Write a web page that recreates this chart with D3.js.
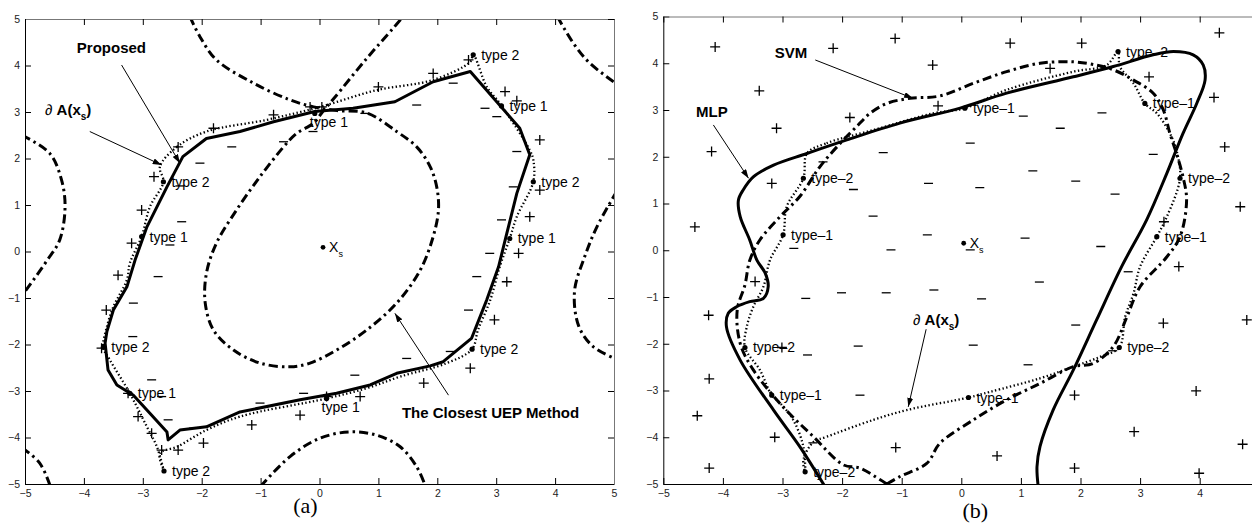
<!DOCTYPE html>
<html>
<head>
<meta charset="UTF-8">
<script src="https://d3js.org/d3.v7.min.js"></script>
<style>
body { margin:0; background:#fff; }
svg { display:block; font-family:"Liberation Sans", Arial, sans-serif; }
.tick text { font-size:10.5px; fill:#222; font-family:"Liberation Sans", Arial, sans-serif; }
.lbl { font-size:14px; fill:#000; }
.note { font-size:15px; font-weight:bold; fill:#000; }
.cap { font-family:"Liberation Serif", "Times New Roman", serif; font-size:22px; fill:#000; }
</style>
</head>
<body>
<svg id="chart" width="1252" height="530"></svg>
<script>
// ---------- panel (a) ----------
var aProposed = [[-2.32,2.04],[-1.92,2.43],[-1.35,2.58],[-0.78,2.79],[-0.08,3.01],[0.57,3.08],[1.28,3.22],[1.93,3.65],[2.56,3.87],[3.40,2.65],[3.57,2.08],[3.35,1.25],[3.18,0.39],[3.04,-0.33],[2.84,-1.04],[2.58,-1.87],[2.10,-2.37],[1.88,-2.46],[1.31,-2.62],[0.86,-2.87],[0.29,-3.05],[-0.33,-3.19],[-1.35,-3.45],[-1.92,-3.77],[-2.37,-3.84],[-2.57,-4.05],[-2.59,-3.88],[-2.88,-3.48],[-3.16,-3.09],[-3.44,-2.87],[-3.59,-2.55],[-3.64,-1.97],[-3.61,-1.72],[-3.50,-1.26],[-3.27,-0.76],[-3.13,-0.18],[-2.93,0.53],[-2.59,1.39]];

var aBoundary = [[-2.71,1.82],[-2.42,2.25],[-1.92,2.58],[-0.90,2.83],[0.01,3.11],[0.97,3.47],[1.93,3.69],[2.56,4.08],[2.61,4.23],[2.84,3.54],[3.06,3.19],[3.57,2.18],[3.63,1.97],[3.63,1.50],[3.35,0.75],[3.23,0.28],[3.06,-0.33],[2.90,-1.04],[2.69,-1.69],[2.59,-2.10],[2.16,-2.40],[1.37,-2.69],[0.80,-2.94],[0.12,-3.16],[-1.35,-3.55],[-1.92,-3.84],[-2.42,-4.20],[-2.71,-4.34],[-2.64,-4.72],[-2.76,-4.20],[-2.93,-3.77],[-3.22,-3.05],[-3.56,-2.33],[-3.67,-2.06],[-3.61,-1.62],[-3.50,-1.19],[-3.27,-0.61],[-3.22,-0.25],[-3.02,0.32],[-2.88,0.96],[-2.65,1.50]];

var aUepMain = [[-2.2,5.05],[-2.03,4.62],[-1.75,4.12],[-1.12,3.62],[-0.50,3.26],[-0.10,3.11],[0.3,3.03],[0.80,2.98],[1.31,2.58],[1.65,2.25],[1.88,1.82],[1.99,1.39],[2.02,0.9],[1.93,0.32],[1.71,-0.40],[1.31,-1.11],[0.80,-1.69],[0.29,-2.12],[-0.16,-2.40],[-0.50,-2.48],[-1.01,-2.40],[-1.46,-2.12],[-1.80,-1.69],[-1.94,-1.11],[-1.92,-0.47],[-1.75,0.18],[-1.41,0.89],[-1.01,1.61],[-0.61,2.25],[-0.39,2.54],[-0.10,2.76],[0.05,3.0],[0.25,3.3],[0.80,4.15],[1.25,4.8],[1.42,5.05]];
var aUepTR = [[4.04,5.05],[4.31,4.48],[4.59,4.05],[5.05,3.6]];
var aUepR = [[5.05,1.3],[4.71,0.53],[4.50,-0.12],[4.33,-0.85],[4.40,-1.6],[4.65,-2.05],[5.05,-2.32]];
var aUepB = [[-1.0,-5.05],[-0.5,-4.41],[0,-4.02],[0.5,-3.88],[0.97,-3.95],[1.37,-4.2],[1.65,-4.63],[1.8,-5.05]];
var aUepL = [[-5.05,2.5],[-4.58,2.11],[-4.38,1.54],[-4.32,0.96],[-4.41,0.25],[-4.63,-0.2],[-5.05,-0.95]];
var aUepBL = [[-5.05,-4.22],[-4.75,-4.55],[-4.57,-5.05]];

var aPlus = [[-2.40,2.25],[-1.80,2.65],[-0.78,2.94],[-0.16,3.11],[0.04,3.11],[1.00,3.54],[1.93,3.83],[2.53,4.12],[3.15,3.44],[3.35,3.24],[3.74,2.40],[3.74,1.32],[3.57,0.75],[3.38,-0.04],[3.18,-0.65],[2.97,-1.47],[2.56,-2.51],[1.77,-2.83],[0.69,-3.12],[0.12,-3.12],[-0.33,-3.52],[-1.15,-3.73],[-1.97,-4.12],[-2.40,-4.27],[-2.68,-4.27],[-2.85,-3.91],[-3.08,-3.55],[-3.25,-3.05],[-3.70,-2.08],[-3.62,-1.26],[-3.42,-0.51],[-3.19,0.18],[-3.02,0.89],[-2.81,1.61]];
var aMinus = [[-1.49,2.25],[-2.03,1.90],[-0.61,2.36],[-0.11,2.58],[-2.37,1.41],[-2.34,0.64],[-2.54,0.14],[0.77,2.97],[1.65,3.15],[2.27,3.62],[2.81,3.08],[3.01,2.90],[3.35,2.15],[3.29,1.39],[3.09,0.68],[2.89,-0.04],[2.67,-0.54],[2.53,-1.26],[2.22,-2.15],[1.48,-2.30],[0.60,-2.66],[-0.27,-3.05],[-1.01,-3.26],[-2.14,-3.80],[-2.57,-3.62],[-2.68,-3.12],[-2.85,-2.76],[-3.17,-1.83],[-3.16,-1.11],[-2.74,-0.54]];

var aTypes = [[-2.65,1.50,"type 2","r"],[-3.02,0.32,"type 1","r"],[-0.08,2.97,"type 1","b"],[2.61,4.23,"type 2","r"],[3.09,3.13,"type 1","r"],[3.63,1.50,"type 2","r"],[3.23,0.28,"type 1","r"],[2.59,-2.10,"type 2","r"],[0.12,-3.16,"type 1","b"],[-2.64,-4.72,"type 2","r"],[-3.22,-3.05,"type 1","r"],[-3.67,-2.06,"type 2","r"]];
var aXs = [0.06,0.09];
var aNotes = [[-4.12,4.27,"Proposed"],[-4.66,2.94,"dA"],[1.40,-3.58,"The Closest UEP Method"]];
var aArrows = [[-3.36,4.01,-2.37,1.90],[-3.90,2.58,-2.68,1.86],[2.19,-3.09,1.28,-1.33]];

// ---------- panel (b) ----------
var bMLP = [[-2.29,-5.05],[-2.71,-4.20],[-3.15,-3.42],[-3.71,-2.35],[-3.94,-1.64],[-3.91,-1.35],[-3.77,-1.21],[-3.55,-1.10],[-3.32,-1.03],[-3.24,-0.78],[-3.29,-0.49],[-3.43,-0.21],[-3.55,0.22],[-3.71,0.72],[-3.74,1.07],[-3.66,1.29],[-3.49,1.57],[-3.15,1.82],[-2.59,2.07],[-1.92,2.36],[-1.03,2.72],[-0.02,3.04],[0.76,3.36],[1.88,3.71],[2.55,3.93],[3.22,4.18],[3.56,4.25],[3.89,4.18],[4.06,3.96],[4.09,3.64],[3.95,3.14],[3.72,2.50],[3.45,1.65],[3.11,0.65],[2.69,-0.35],[2.27,-1.49],[1.88,-2.56],[1.54,-3.42],[1.32,-4.20],[1.27,-4.63],[1.29,-5.05]];

var bSVM = [[-1.25,-5.0],[-1.36,-4.91],[-1.70,-4.66],[-1.98,-4.59],[-2.48,-3.99],[-2.99,-3.35],[-3.49,-2.56],[-3.71,-1.99],[-3.76,-1.28],[-3.63,-0.74],[-3.55,-0.22],[-3.38,0.22],[-3.04,0.72],[-2.71,1.15],[-2.37,1.79],[-2.03,2.29],[-1.76,2.64],[-1.53,2.93],[-1.25,3.14],[-0.86,3.25],[-0.36,3.30],[0.20,3.57],[0.76,3.82],[1.32,4.00],[1.88,4.03],[2.27,3.96],[2.55,3.86],[2.89,3.64],[3.22,3.36],[3.39,3.00],[3.50,2.50],[3.61,2.07],[3.72,1.57],[3.78,1.07],[3.67,0.29],[3.45,-0.14],[3.00,-0.78],[2.78,-1.42],[2.55,-2.06],[2.21,-2.42],[1.88,-2.49],[1.32,-2.85],[0.76,-3.20],[0.20,-3.63],[-0.36,-4.13],[-0.58,-4.56],[-1.03,-4.84],[-1.25,-5.0]];

var bBoundary = [[-2.59,2.07],[-2.26,2.29],[-1.48,2.57],[-0.47,2.93],[0.06,3.04],[0.76,3.43],[1.88,3.82],[2.44,3.96],[2.63,4.25],[2.66,3.93],[2.89,3.57],[3.08,3.14],[3.28,2.93],[3.50,2.50],[3.61,2.14],[3.67,1.54],[3.45,0.72],[3.28,0.29],[3.00,-0.35],[2.89,-0.92],[2.75,-1.42],[2.65,-2.08],[2.33,-2.28],[1.88,-2.49],[1.32,-2.74],[0.48,-3.03],[0.12,-3.15],[-0.92,-3.42],[-1.48,-3.63],[-2.26,-3.99],[-2.48,-4.10],[-2.65,-4.49],[-2.62,-4.74],[-2.65,-4.20],[-2.82,-3.63],[-3.04,-3.27],[-3.18,-3.10],[-3.38,-2.56],[-3.63,-2.08],[-3.60,-1.64],[-3.49,-1.21],[-3.32,-0.78],[-3.21,-0.21],[-2.99,0.33],[-2.93,0.93],[-2.65,1.54]];

var bPlus = [[-4.13,4.35],[-2.15,4.32],[-1.11,4.53],[-0.48,3.96],[-3.39,3.41],[-1.87,2.84],[-3.10,2.61],[-4.19,2.11],[-3.18,1.43],[-4.47,0.50],[-0.39,3.09],[0.82,4.43],[2.02,4.43],[4.33,4.65],[1.49,3.89],[3.15,3.71],[4.24,3.27],[4.42,2.21],[4.68,0.93],[3.40,0.61],[3.65,-0.35],[3.39,-1.56],[4.79,-1.49],[1.90,-3.10],[3.94,-3.01],[2.90,-3.88],[4.72,-4.15],[3.99,-4.77],[1.90,-4.66],[0.60,-4.40],[-4.24,-1.39],[-3.46,-0.67],[-4.23,-2.75],[-4.43,-3.54],[-3.13,-4.00],[-4.23,-4.66],[-1.10,-4.22],[-3.01,-2.08]];
var bMinus = [[-1.31,2.09],[-2.32,1.89],[-1.81,1.30],[-0.55,1.43],[-1.48,0.73],[-0.57,0.33],[-2.81,0.04],[-1.18,0.01],[0.15,2.29],[1.20,1.70],[1.92,1.48],[0.31,1.34],[2.58,1.20],[1.07,0.26],[2.34,0.08],[0.15,0.01],[1.31,-0.68],[-2.61,-1.03],[-2.01,-0.91],[-1.26,-0.91],[-0.46,-0.85],[0.34,-1.04],[1.92,-1.60],[-1.73,-2.05],[0.20,-2.03],[-2.58,-2.24],[1.12,-2.45],[-1.70,-3.10],[1.04,2.87],[2.36,2.94],[1.66,2.61],[3.22,2.05],[2.80,-0.46],[2.54,-2.15],[-2.49,-4.12]];

var bTypes = [[-2.65,1.54,"type–2","r"],[-2.99,0.33,"type–1","r"],[0.06,3.04,"type–1","r"],[2.63,4.25,"type–2","r"],[3.08,3.14,"type–1","r"],[3.67,1.54,"type–2","r"],[3.28,0.29,"type–1","r"],[2.65,-2.08,"type–2","r"],[0.12,-3.15,"type–1","r"],[-2.62,-4.74,"type–2","r"],[-3.18,-3.10,"type–1","r"],[-3.63,-2.08,"type–2","r"]];
var bXs = [0.04,0.15];
var bNotes = [[-3.13,4.11,"SVM"],[-4.45,2.84,"MLP"],[-0.81,-1.60,"dA"]];
var bArrows = [[-2.45,4.07,-0.81,3.25],[-4.16,2.68,-3.57,1.54],[-0.59,-1.69,-0.89,-3.35]];

var W = 1252;
var svg = d3.select("#chart");
var defs = svg.append("defs");
defs.append("marker").attr("id", "head")
  .attr("viewBox", "0 0 10 10").attr("refX", 10).attr("refY", 5)
  .attr("markerWidth", 9).attr("markerHeight", 6)
  .attr("markerUnits", "userSpaceOnUse").attr("preserveAspectRatio", "none")
  .attr("orient", "auto")
  .append("path").attr("d", "M0,0L10,5L0,10z").attr("fill", "#000");

function panel(o) {
  var x = d3.scaleLinear().domain([-5, 5]).range(o.xr);
  var y = d3.scaleLinear().domain([-5, 5]).range(o.yr);
  var g = svg.append("g");

  defs.append("clipPath").attr("id", o.id + "clip").append("rect")
    .attr("x", o.xr[0]).attr("y", o.yr[1])
    .attr("width", o.xr[1] - o.xr[0]).attr("height", o.yr[0] - o.yr[1]);
  var plot = g.append("g").attr("clip-path", "url(#" + o.id + "clip)");

  var smooth = d3.line().x(function(d){return x(d[0]);}).y(function(d){return y(d[1]);}).curve(d3.curveCatmullRom.alpha(0.5));
  var smoothClosed = d3.line().x(function(d){return x(d[0]);}).y(function(d){return y(d[1]);}).curve(d3.curveCatmullRomClosed.alpha(0.5));
  var straightClosed = d3.line().x(function(d){return x(d[0]);}).y(function(d){return y(d[1]);}).curve(d3.curveLinearClosed);

  // dash-dot curves
  o.dashdot.forEach(function(c) {
    plot.append("path").attr("d", smooth(c)).attr("fill", "none")
      .attr("stroke", "#000").attr("stroke-width", 3)
      .attr("stroke-dasharray", "9 4 2.5 4");
  });
  // dotted boundary
  plot.append("path").attr("d", smoothClosed(o.boundary)).attr("fill", "none")
    .attr("stroke", "#000").attr("stroke-width", 2.3)
    .attr("stroke-dasharray", "1.4 2.4");
  // solid
  plot.append("path").attr("d", o.solidClosed ? straightClosed(o.solid) : smooth(o.solid))
    .attr("fill", "none").attr("stroke", "#000").attr("stroke-width", 3)
    .attr("stroke-linejoin", "round");

  // markers
  plot.selectAll(".plus").data(o.plus).enter().append("path")
    .attr("d", function(d){ var px = x(d[0]), py = y(d[1]);
      return "M" + (px-5) + "," + py + "H" + (px+5) + "M" + px + "," + (py-5) + "V" + (py+5); })
    .attr("stroke", "#000").attr("stroke-width", 1.3);
  plot.selectAll(".minus").data(o.minus).enter().append("path")
    .attr("d", function(d){ var px = x(d[0]), py = y(d[1]);
      return "M" + (px-4.5) + "," + py + "H" + (px+4.5); })
    .attr("stroke", "#000").attr("stroke-width", 1.3);

  // type points
  g.selectAll(".tp").data(o.types).enter().append("circle")
    .attr("cx", function(d){return x(d[0]);}).attr("cy", function(d){return y(d[1]);})
    .attr("r", 2.6).attr("fill", "#000");
  g.selectAll(".tl").data(o.types).enter().append("text").attr("class", "lbl")
    .attr("x", function(d){return x(d[0]) + (d[3] === "b" ? -5 : 8);})
    .attr("y", function(d){return y(d[1]) + (d[3] === "b" ? 14 : 5);})
    .text(function(d){return d[2];});

  // X_s
  g.append("circle").attr("cx", x(o.xs[0])).attr("cy", y(o.xs[1])).attr("r", 2.4).attr("fill", "#000");
  var xt = g.append("text").attr("class", "lbl").attr("x", x(o.xs[0]) + 6).attr("y", y(o.xs[1]) + 5);
  xt.append("tspan").text("X");
  xt.append("tspan").attr("dy", 5).style("font-size", "9px").text("s");

  // arrows and notes
  g.selectAll(".arr").data(o.arrows).enter().append("line")
    .attr("x1", function(d){return x(d[0]);}).attr("y1", function(d){return y(d[1]);})
    .attr("x2", function(d){return x(d[2]);}).attr("y2", function(d){return y(d[3]);})
    .attr("stroke", "#000").attr("stroke-width", 1).attr("marker-end", "url(#head)");
  o.notes.forEach(function(n) {
    var t = g.append("text").attr("class", "note").attr("x", x(n[0])).attr("y", y(n[1]));
    if (n[2] === "dA") {
      t.append("tspan").style("font-weight", "normal").text("\u2202 ");
      t.append("tspan").text("A(x");
      t.append("tspan").attr("dy", 5).style("font-size", "10px").text("s");
      t.append("tspan").attr("dy", -5).text(")");
    } else {
      t.text(n[2]);
    }
  });

  // axes (MATLAB style box, ticks inward)
  var ax = function(sel, stroke) {
    sel.select(".domain").attr("stroke", stroke);
    sel.selectAll(".tick line").attr("stroke", "#000");
  };
  var xAxisG = g.append("g").attr("transform", "translate(0," + o.yr[0] + ")")
    .call(d3.axisBottom(x).ticks(10).tickSizeInner(-6).tickSizeOuter(0).tickPadding(6))
    .call(ax, "#000");
  g.append("g").attr("transform", "translate(" + o.xr[0] + ",0)")
    .call(d3.axisLeft(y).ticks(10).tickSizeInner(-6).tickSizeOuter(0).tickPadding(5))
    .call(ax, "#000");
  g.append("g").attr("transform", "translate(0," + o.yr[1] + ")")
    .call(d3.axisTop(x).ticks(10).tickSizeInner(-6).tickSizeOuter(0).tickFormat(""))
    .call(ax, "#777");
  g.append("g").attr("transform", "translate(" + o.xr[1] + ",0)")
    .call(d3.axisRight(y).ticks(10).tickSizeInner(-6).tickSizeOuter(0).tickFormat(""))
    .call(ax, "#777");
  g.selectAll(".tick text").attr("fill", "#222").style("font-size", "10.5px")
    .style("font-family", "'Liberation Sans', Arial, sans-serif");
  // the right panel runs past the page edge: drop x labels that fall outside
  xAxisG.selectAll(".tick text").filter(function(d){ return x(d) > W - 8; }).remove();

  svg.append("text").attr("class", "cap").attr("text-anchor", "middle")
    .attr("x", x(0) + o.capDx).attr("y", o.capY).text(o.cap);
}

panel({id: "a", xr: [25, 614], yr: [484, 19], solid: aProposed, solidClosed: true,
  boundary: aBoundary, dashdot: [aUepMain, aUepTR, aUepR, aUepB, aUepL, aUepBL],
  plus: aPlus, minus: aMinus, types: aTypes, xs: aXs, notes: aNotes, arrows: aArrows,
  cap: "(a)", capDx: -14, capY: 513});

panel({id: "b", xr: [663.3, 1259.3], yr: [484, 16.5], solid: bMLP, solidClosed: false,
  boundary: bBoundary, dashdot: [bSVM],
  plus: bPlus, minus: bMinus, types: bTypes, xs: bXs, notes: bNotes, arrows: bArrows,
  cap: "(b)", capDx: 14, capY: 518});
</script>
</body>
</html>
